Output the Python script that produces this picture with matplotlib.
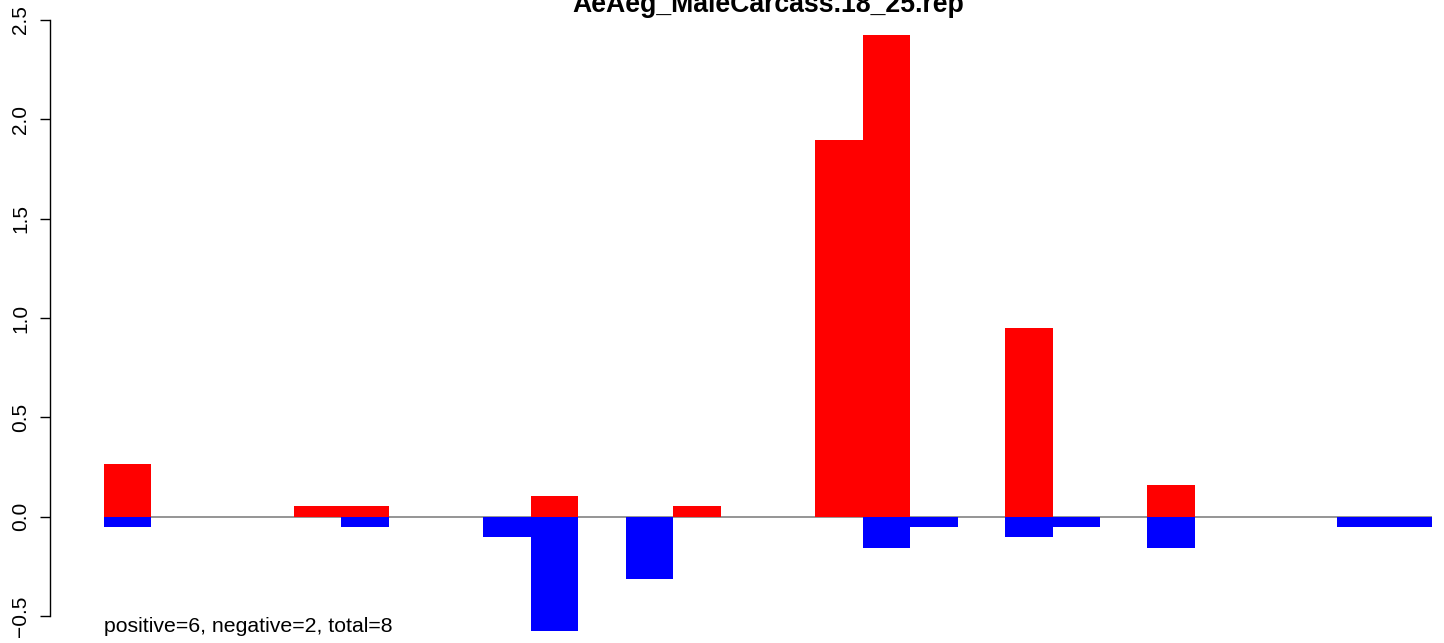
import matplotlib
matplotlib.use("Agg")
import matplotlib.pyplot as plt
import numpy as np

title = "AeAeg_MaleCarcass.18_25.rep"
note = "positive=6, negative=2, total=8"
positive = [0.267, 0, 0, 0, 0.055, 0.055, 0, 0, 0, 0.106, 0, 0, 0.055, 0, 0,
            1.896, 2.425, 0, 0, 0.951, 0, 0, 0.161, 0, 0, 0, 0, 0]
negative = [-0.054, 0, 0, 0, 0, -0.054, 0, 0, -0.104, -0.577, 0, -0.315, 0, 0, 0,
            0, -0.156, -0.054, 0, -0.104, -0.054, 0, -0.156, 0, 0, 0, -0.054, -0.054]
yticks = [-0.5, 0.0, 0.5, 1.0, 1.5, 2.0, 2.5]
ytick_labels = ["−0.5", "0.0", "0.5", "1.0", "1.5", "2.0", "2.5"]

plt.rcParams['font.family'] = ['Liberation Sans', 'DejaVu Sans']

W, H = 1444, 643
fig = plt.figure(figsize=(W / 100, H / 100), dpi=100)
ax = fig.add_axes([104 / W, (H - 616) / H, (1432 - 104) / W, (616 - 20) / H])

n = len(positive)
x = np.arange(n)
ax.axhline(0, color='#8c8c8c', lw=1.3, zorder=1)
ax.bar(x, positive, width=1.0, align='edge', color='#ff0000', linewidth=0,
       zorder=2, clip_on=False)
ax.bar(x, negative, width=1.0, align='edge', color='#0000ff', linewidth=0,
       zorder=2, clip_on=False)

ax.set_xlim(0, n)
ax.set_ylim(-0.5, 2.5)
for s in ['top', 'right', 'bottom']:
    ax.spines[s].set_visible(False)
ax.spines['left'].set_position(('outward', 54 * 0.72))
ax.spines['left'].set_linewidth(1.0)
ax.set_xticks([])
ax.set_yticks(yticks)
ax.set_yticklabels(ytick_labels, rotation=90, va='center', fontsize=15)
ax.tick_params(axis='y', length=7.2, width=1.0, pad=7)

fig.text(768 / W, 1 - 12 / H, title, ha='center', va='baseline',
         fontsize=19.2, fontweight='bold')
fig.text(104 / W, 1 - 632 / H, note, ha='left', va='baseline', fontsize=15.3)

fig.savefig("out.png", dpi=100)
